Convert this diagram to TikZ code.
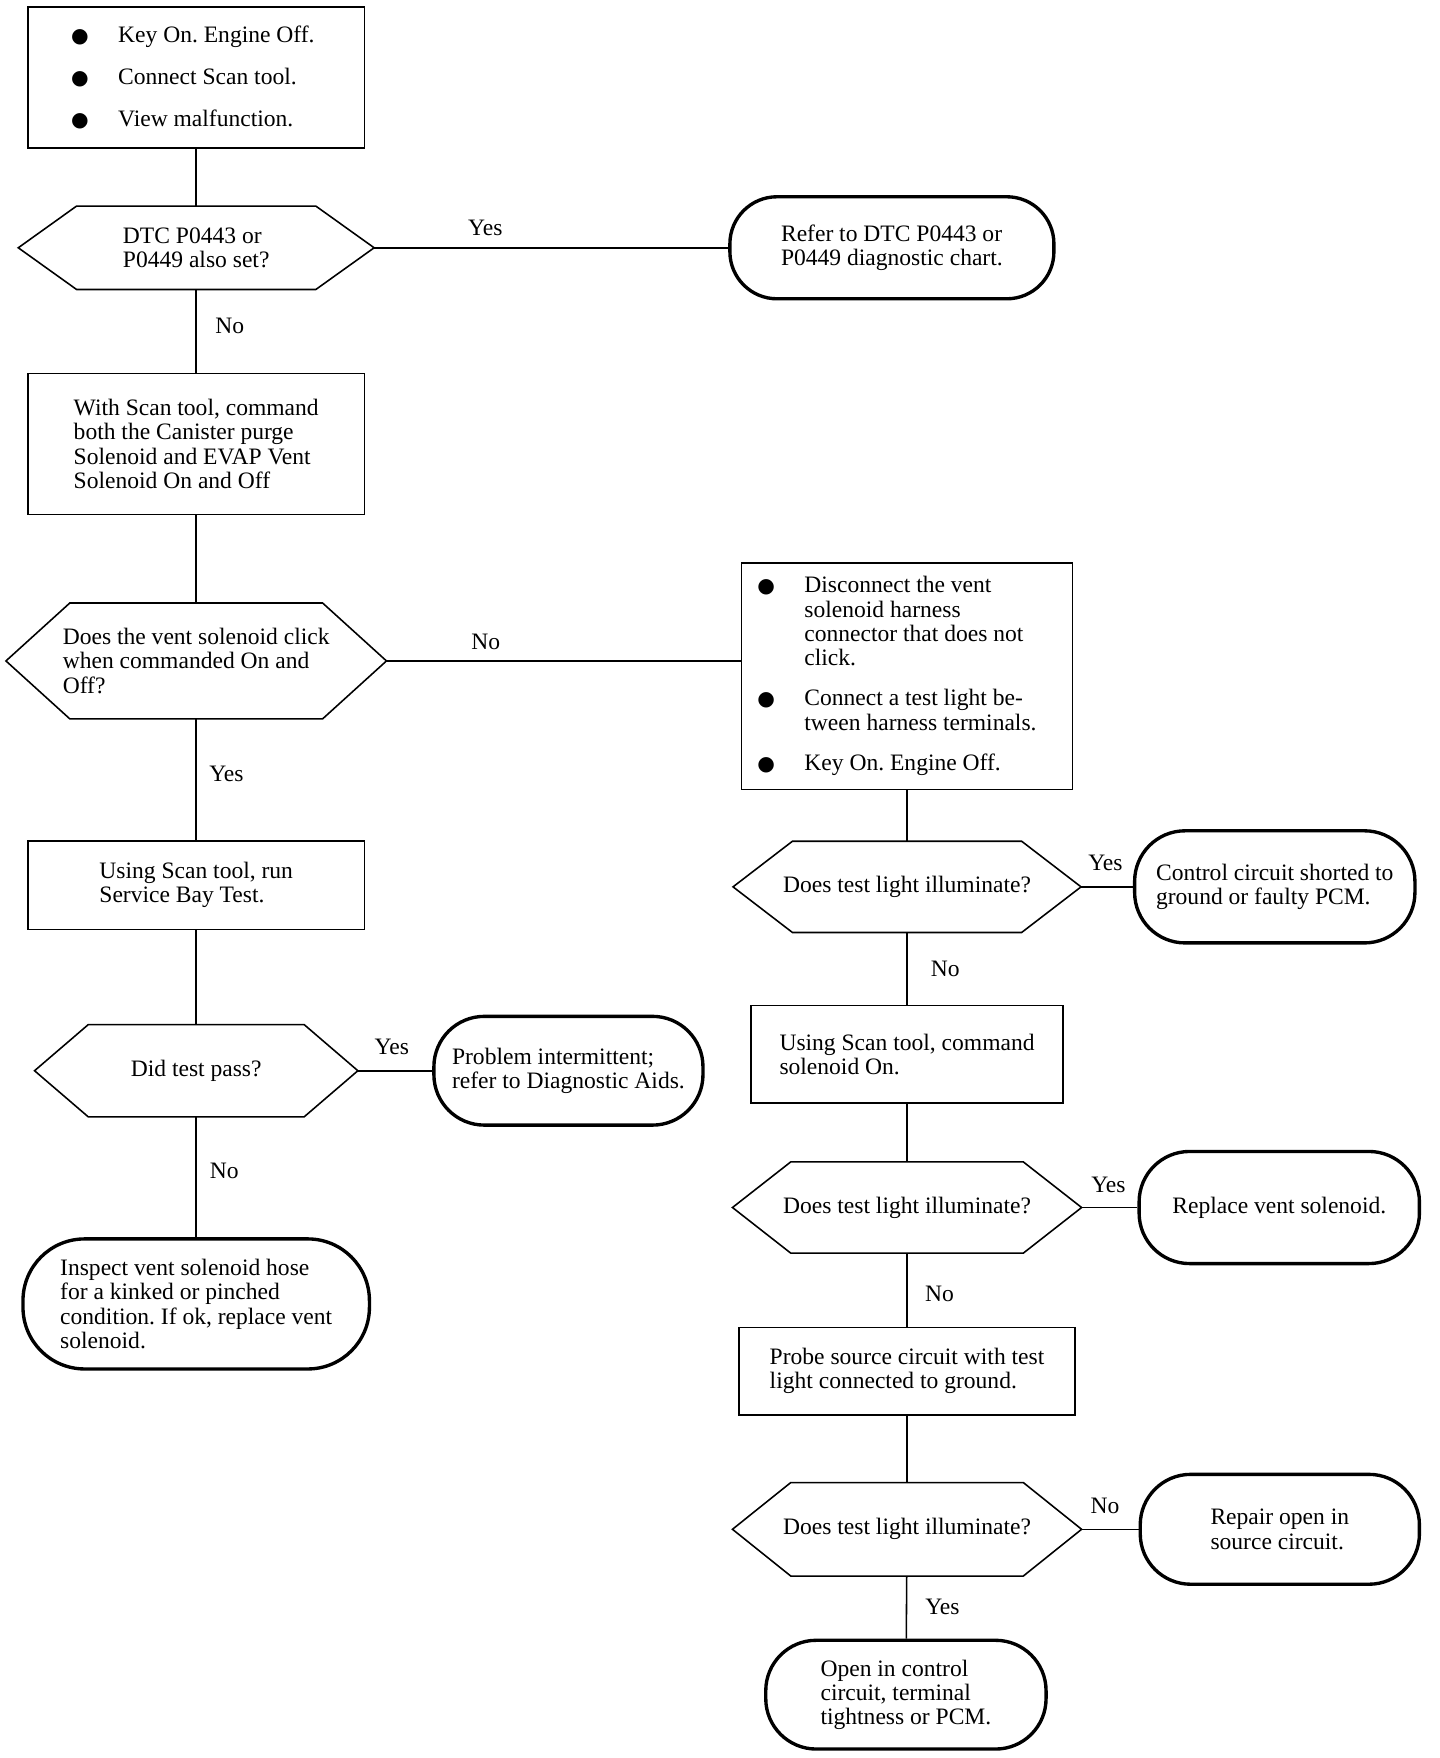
\documentclass[tikz,border=0pt]{standalone}
\usepackage{fontspec}
\setmainfont{Liberation Serif}
\newfontfamily\symfont{DejaVu Sans}
\usetikzlibrary{calc}
\frenchspacing
\newcommand\blt{\makebox[42pt][l]{\symfont\fontsize{18}{18}\selectfont ●}}
\newcommand\hexdraw[2]{\draw[hexline] (#1.west) -- ($(#1.north west)+(#2,0)$) -- ($(#1.north east)+(-#2,0)$) -- (#1.east) -- ($(#1.south east)+(-#2,0)$) -- ($(#1.south west)+(#2,0)$) -- cycle;}
\tikzset{
  proc/.style={draw, line width=1.4pt, align=left, inner sep=0pt},
  term/.style={draw, line width=3pt, align=left, inner sep=0pt},
  hexa/.style={align=left, inner sep=0pt},
  hexline/.style={line width=1.4pt},
  conn/.style={line width=1.4pt},
  lbl/.style={inner sep=0pt}
}
\begin{document}
\begin{tikzpicture}[x=1pt,y=1pt,font=\fontsize{21}{21.6}\selectfont\frenchspacing]
\fill[white] (0,0) rectangle (1284,-1568);
\useasboundingbox (0,0) rectangle (1284,-1568);

% left column
\node[proc, minimum width=300, minimum height=126] (b1) at (175,-69)
  {\blt Key On. Engine Off.\kern6pt\\[15.5pt]\blt Connect Scan tool.\\[15.5pt]\blt View malfunction.};
\node[hexa, minimum width=317, minimum height=74] (d1) at (175,-221)
  {DTC P0443 or\\P0449 also set?};
\hexdraw{d1}{52}
\node[term, rounded corners=42, minimum width=289, minimum height=91] (t1) at (795.5,-221)
  {Refer to DTC P0443 or\\P0449 diagnostic chart.};
\node[proc, minimum width=300, minimum height=126] (b2) at (175,-396)
  {With Scan tool, command\\both the Canister purge\\Solenoid and EVAP Vent\\Solenoid On and Off};
\node[hexa, minimum width=339, minimum height=103] (d2) at (175,-589.5)
  {Does the vent solenoid click\\when commanded On and\\Off?};
\hexdraw{d2}{57}
\node[proc, minimum width=300, minimum height=79] (b4) at (175,-789.5)
  {Using Scan tool, run\\Service Bay Test.};
\node[hexa, minimum width=288, minimum height=82] (d3) at (175,-955)
  {Did test pass?};
\hexdraw{d3}{48}
\node[term, rounded corners=45, minimum width=240, minimum height=97] (t2) at (507,-955)
  {Problem intermittent;\\refer to Diagnostic Aids.};
\node[term, rounded corners=55, minimum width=309, minimum height=116] (t3) at (175,-1163)
  {Inspect vent solenoid hose\\for a kinked or pinched\\condition. If ok, replace vent\\solenoid.};

% right column
\node[proc, minimum width=295, minimum height=202] (b3) at (809,-603)
  {\blt Disconnect the vent\\\hspace*{42pt}solenoid harness\\\hspace*{42pt}connector that does not\\\hspace*{42pt}click.\\[14.5pt]\blt Connect a test light be-\\\hspace*{42pt}tween harness terminals.\kern18pt\\[14.5pt]\blt Key On. Engine Off.};
\node[hexa, minimum width=310, minimum height=81] (d4) at (809,-791)
  {Does test light illuminate?};
\hexdraw{d4}{53}
\node[term, rounded corners=45, minimum width=250, minimum height=100] (t4) at (1137,-791)
  {Control circuit shorted to\\ground or faulty PCM.};
\node[proc, minimum width=278, minimum height=87] (b5) at (809,-940.5)
  {Using Scan tool, command\\solenoid On.};
\node[hexa, minimum width=311, minimum height=81] (d5) at (809,-1077)
  {Does test light illuminate?};
\hexdraw{d5}{52}
\node[term, rounded corners=45, minimum width=250, minimum height=100] (t5) at (1141,-1077)
  {Replace vent solenoid.};
\node[proc, minimum width=300, minimum height=78] (b6) at (809,-1223)
  {Probe source circuit with test\\light connected to ground.};
\node[hexa, minimum width=311, minimum height=83] (d6) at (809,-1364)
  {Does test light illuminate?};
\hexdraw{d6}{52}
\node[term, rounded corners=45, minimum width=249, minimum height=98] (t6) at (1141.5,-1364)
  {Repair open in\\source circuit.};
\node[term, rounded corners=45, minimum width=250, minimum height=97] (t7) at (808,-1511.5)
  {Open in control\\circuit, terminal\\tightness or PCM.};

% connectors
\draw[conn] (b1) -- (d1);
\draw[conn] (d1) -- node[lbl, pos=.314, yshift=18] {Yes} (t1);
\draw[conn] (d1) -- node[lbl, pos=.44, xshift=30] {No} (b2);
\draw[conn] (b2) -- (d2);
\draw[conn] (d2.east) -- node[lbl, pos=.28, yshift=17] {No} (d2.east -| b3.west);
\draw[conn] (d2) -- node[lbl, pos=.455, xshift=27] {Yes} (b4);
\draw[conn] (b4) -- (d3);
\draw[conn] (d3) -- node[lbl, pos=.457, yshift=21] {Yes} (t2);
\draw[conn] (d3) -- node[lbl, pos=.45, xshift=25] {No} (t3);
\draw[conn] (b3) -- (d4);
\draw[conn] (d4) -- node[lbl, pos=.47, yshift=21] {Yes} (t4);
\draw[conn] (d4) -- node[lbl, pos=.5, xshift=34] {No} (b5);
\draw[conn] (b5) -- (d5);
\draw[conn] (d5) -- node[lbl, pos=.48, yshift=20] {Yes} (t5);
\draw[conn] (d5) -- node[lbl, pos=.56, xshift=29] {No} (b6);
\draw[conn] (b6) -- (d6);
\draw[conn] (d6) -- node[lbl, pos=.41, yshift=21] {No} (t6);
\draw[conn] (d6) -- node[lbl, pos=.49, xshift=32] {Yes} (t7);
\end{tikzpicture}
\end{document}
